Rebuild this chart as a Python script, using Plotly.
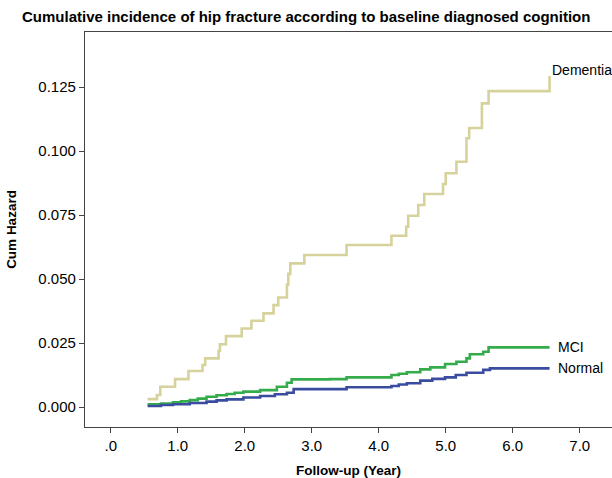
import plotly.graph_objects as go

# Dementia step curve (follow-up years, cumulative hazard)
dem_x = [0.55, 0.69, 0.74, 0.96, 1.16, 1.37, 1.41, 1.61, 1.63, 1.72, 1.955, 2.10, 2.28, 2.43,
         2.50, 2.63, 2.65, 2.68, 2.89, 3.52, 4.19, 4.41, 4.44, 4.59, 4.68, 4.96, 5.00, 5.16,
         5.31, 5.35, 5.54, 5.64, 6.55]
dem_y = [0.0031, 0.0047, 0.0079, 0.0109, 0.0141, 0.0164, 0.0190, 0.0220, 0.0245, 0.0277,
         0.0307, 0.0337, 0.0366, 0.0398, 0.0428, 0.0478, 0.0520, 0.0561, 0.0594, 0.0633,
         0.0669, 0.0704, 0.0747, 0.0789, 0.0832, 0.0871, 0.0913, 0.0958, 0.1050, 0.1090,
         0.1186, 0.1234, 0.1293]

# MCI step curve
mci_x = [0.55, 0.75, 0.93, 1.05, 1.18, 1.30, 1.43, 1.58, 1.73, 1.85, 1.98, 2.23, 2.48, 2.63,
         2.70, 3.27, 3.52, 4.19, 4.30, 4.42, 4.62, 4.77, 4.99, 5.16, 5.31, 5.36, 5.56, 5.64, 6.55]
mci_y = [0.0011, 0.0014, 0.0018, 0.0022, 0.0027, 0.0033, 0.0040, 0.0046, 0.0051, 0.0056,
         0.0060, 0.0066, 0.0079, 0.0095, 0.0108, 0.0109, 0.0116, 0.0125, 0.0130, 0.0136,
         0.0147, 0.0155, 0.0168, 0.0177, 0.0190, 0.0206, 0.0216, 0.0233, 0.0233]

# Normal step curve
nor_x = [0.55, 0.75, 0.93, 1.18, 1.43, 1.58, 1.73, 1.98, 2.23, 2.45, 2.63, 2.73, 3.52, 4.19,
         4.30, 4.42, 4.62, 4.80, 4.99, 5.15, 5.31, 5.56, 5.66, 6.55]
nor_y = [0.0004, 0.0008, 0.0011, 0.0016, 0.0021, 0.0026, 0.0030, 0.0037, 0.0043, 0.0050,
         0.0056, 0.0070, 0.0077, 0.0082, 0.0088, 0.0093, 0.0103, 0.0110, 0.0116, 0.0125,
         0.0134, 0.0145, 0.0151, 0.0151]

x_tickvals = [0, 1, 2, 3, 4, 5, 6, 7]
x_ticktext = [".0", "1.0", "2.0", "3.0", "4.0", "5.0", "6.0", "7.0"]
y_tickvals = [0.0, 0.025, 0.05, 0.075, 0.1, 0.125]
y_ticktext = ["0.000", "0.025", "0.050", "0.075", "0.100", "0.125"]

series = [
    ("Dementia", dem_x, dem_y, "rgb(214,210,156)", 0),
    ("MCI", mci_x, mci_y, "rgb(52,172,76)", 6),
    ("Normal", nor_x, nor_y, "rgb(58,76,160)", 6),
]

FONT = "Liberation Sans, Arial, sans-serif"

fig = go.Figure()
for name, xs, ys, col, _ in series:
    fig.add_trace(go.Scatter(x=xs, y=ys, mode="lines", line=dict(color=col, width=2.6, shape="hv"),
                             name=name, showlegend=False, hoverinfo="skip"))

annots = []
for name, xs, ys, col, shift in series:
    yy = ys[-1] + (0.0023 if name == "Dementia" else 0.0)
    annots.append(dict(x=xs[-1], y=yy, xref="x", yref="y", text=name, showarrow=False,
                       xanchor="left", yanchor="middle", xshift=shift,
                       font=dict(family=FONT, size=14, color="black")))

fig.update_layout(
    width=612, height=478,
    margin=dict(l=85, r=0, t=32, b=51),
    paper_bgcolor="white", plot_bgcolor="white",
    title=dict(text="<b>Cumulative incidence of hip fracture according to baseline diagnosed cognition</b>",
               x=22 / 612, xanchor="left", y=1 - 17 / 478, yanchor="middle",
               font=dict(family=FONT, size=15, color="black")),
    annotations=annots,
    font=dict(family=FONT, color="black"),
)
fig.update_xaxes(range=[-0.384, 7.482], tickvals=x_tickvals, ticktext=x_ticktext,
                 showgrid=False, zeroline=False, showline=True, linecolor="#444", linewidth=1.3,
                 mirror=True, ticks="outside", ticklen=5, tickcolor="#444",
                 tickfont=dict(family=FONT, size=15, color="black"),
                 title=dict(text="<b>Follow-up (Year)</b>", font=dict(family=FONT, size=13.5), standoff=13))
fig.update_yaxes(range=[-0.0078, 0.1465], tickvals=y_tickvals, ticktext=y_ticktext,
                 showgrid=False, zeroline=False, showline=True, linecolor="#444", linewidth=1.3,
                 ticks="outside", ticklen=5, tickcolor="#444",
                 tickfont=dict(family=FONT, size=15, color="black"),
                 title=dict(text="<b>Cum Hazard</b>", font=dict(family=FONT, size=13.5), standoff=18))

fig.write_html("out.html")
